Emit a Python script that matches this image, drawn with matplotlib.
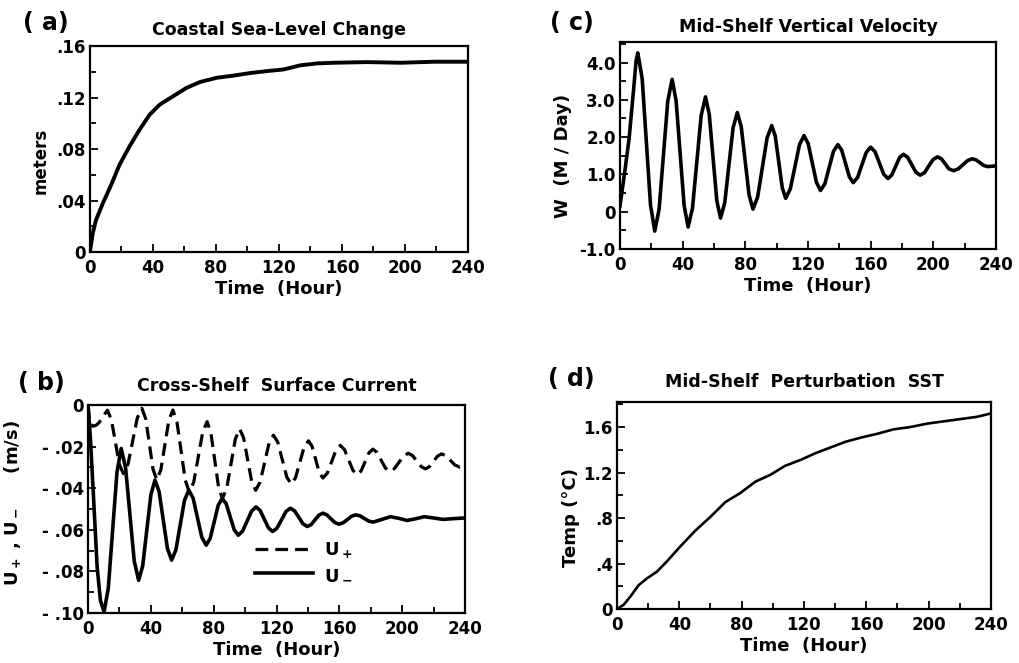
import matplotlib
matplotlib.use("Agg")
import matplotlib.pyplot as plt
from matplotlib.ticker import MultipleLocator, FuncFormatter

# ---- data ----
# (a) coastal sea-level change (m)
t_sl = [0, 1.7, 3.8, 8.1, 13.4, 18.7, 25.1, 31.5, 37.9, 44.3, 52.8, 61.3, 69.8,
        80.4, 91.0, 101.7, 112.3, 123.0, 133.6, 144.3, 154.9, 176.2, 197.4, 218.7, 240]
sea_level = [0, 0.0143, 0.0247, 0.0377, 0.052, 0.0676, 0.082, 0.095, 0.1067, 0.1145,
             0.121, 0.1275, 0.132, 0.1353, 0.137, 0.139, 0.1405, 0.1418, 0.145, 0.1465,
             0.147, 0.1475, 0.147, 0.1478, 0.1478]

# (b) cross-shelf surface current (m/s)
t_up = [0, 1, 3, 5, 7, 9.5, 12.3, 14.85, 17.4, 19.95, 22.5, 25.45, 28.4, 31.35, 34.3,
        36.7, 39.05, 41.4, 43.8, 46.35, 48.9, 51.45, 54.0, 56.6, 59.25, 61.9, 64.5,
        67.3, 70.15, 73.0, 75.8, 78.2, 80.65, 83.1, 85.5, 88.25, 91.0, 93.75, 96.5,
        99.05, 101.6, 104.15, 106.7, 109.5, 112.35, 115.2, 118.0, 120.8, 123.65, 126.5,
        129.3, 132.05, 134.8, 137.55, 140.3, 142.6, 144.9, 147.2, 149.5, 152.3, 155.05,
        157.8, 160.6, 163.3, 165.95, 168.6, 171.3, 173.8, 176.3, 178.8, 181.3, 184.0,
        186.65, 189.3, 192.0, 194.95, 197.9, 200.85, 203.8, 206.55, 209.3, 212.05,
        214.8, 217.35, 219.9, 222.45, 225.0, 227.9, 230.75, 233.6, 236.5, 240]
u_plus = [0, -0.008, -0.0102, -0.0098, -0.0085, -0.0055, -0.0025, -0.0070, -0.0178,
          -0.0286, -0.0330, -0.0284, -0.0173, -0.0062, -0.0016, -0.0066, -0.0188,
          -0.0310, -0.0360, -0.0311, -0.0192, -0.0073, -0.0024, -0.0082, -0.0222,
          -0.0362, -0.0420, -0.0370, -0.0250, -0.0130, -0.0080, -0.0134, -0.0265,
          -0.0396, -0.0450, -0.0401, -0.0283, -0.0164, -0.0115, -0.0158, -0.0263,
          -0.0367, -0.0410, -0.0371, -0.0278, -0.0184, -0.0145, -0.0179, -0.0263,
          -0.0346, -0.0380, -0.0350, -0.0276, -0.0202, -0.0172, -0.0198, -0.0262,
          -0.0325, -0.0351, -0.0328, -0.0273, -0.0217, -0.0194, -0.0215, -0.0265,
          -0.0314, -0.0335, -0.0317, -0.0274, -0.0230, -0.0212, -0.0228, -0.0266,
          -0.0303, -0.0319, -0.0306, -0.0276, -0.0245, -0.0232, -0.0243, -0.0270,
          -0.0296, -0.0307, -0.0296, -0.0271, -0.0246, -0.0235, -0.0244, -0.0267,
          -0.0289, -0.0298, -0.0290]

t_um = [0, 1.5, 3.6, 5.8, 7.9, 10.2, 12.9, 15.65, 18.4, 21.1, 23.9, 26.65, 29.4, 32.2,
        34.8, 37.4, 40.0, 42.6, 45.25, 47.9, 50.55, 53.2, 55.9, 58.65, 61.4, 64.1,
        66.9, 69.65, 72.4, 75.2, 77.75, 80.3, 82.85, 85.4, 87.95, 90.5, 93.05, 95.6,
        98.4, 101.25, 104.1, 106.9, 109.55, 112.2, 114.85, 117.5, 120.3, 123.15, 126.0,
        128.8, 131.5, 134.15, 136.8, 139.5, 142.0, 144.5, 147.0, 149.5, 152.05, 154.6,
        157.15, 159.7, 162.4, 165.05, 167.7, 170.4, 173.2, 175.95, 178.7, 181.5, 187.0,
        192.5, 198.0, 203.0, 208.5, 214.0, 220.0, 226.0, 233.0, 240]
u_minus = [0, -0.016, -0.046, -0.078, -0.094, -0.0995, -0.0880, -0.0602, -0.0324,
           -0.0209, -0.0302, -0.0526, -0.0750, -0.0843, -0.0773, -0.0602, -0.0431,
           -0.0361, -0.0417, -0.0554, -0.0690, -0.0746, -0.0697, -0.0578, -0.0458,
           -0.0409, -0.0448, -0.0542, -0.0635, -0.0674, -0.0641, -0.0562, -0.0482,
           -0.0449, -0.0475, -0.0538, -0.0600, -0.0626, -0.0606, -0.0558, -0.0510,
           -0.0490, -0.0507, -0.0549, -0.0591, -0.0608, -0.0592, -0.0552, -0.0512,
           -0.0496, -0.0509, -0.0540, -0.0571, -0.0584, -0.0575, -0.0552, -0.0529,
           -0.0520, -0.0528, -0.0547, -0.0565, -0.0573, -0.0566, -0.0551, -0.0535,
           -0.0528, -0.0533, -0.0546, -0.0558, -0.0563, -0.0550, -0.0537, -0.0545,
           -0.0555, -0.0547, -0.0537, -0.0543, -0.0550, -0.0546, -0.0543]

# (c) mid-shelf vertical velocity (m/day)
t_w = [0, 3, 5.8, 8.7, 10.3, 11.4, 14.2, 16.85, 19.5, 22.2, 25.0, 27.75, 30.5, 33.3,
       35.85, 38.4, 40.95, 43.5, 46.3, 49.05, 51.8, 54.6, 57.0, 59.4, 61.8, 64.2, 66.9,
       69.55, 72.2, 74.9, 77.4, 79.9, 82.4, 84.9, 87.9, 90.9, 93.9, 96.9, 99.1, 101.35,
       103.6, 105.8, 108.7, 111.65, 114.6, 117.5, 120.1, 122.75, 125.4, 128.0, 130.8,
       133.55, 136.3, 139.1, 141.55, 144.0, 146.45, 148.9, 151.7, 154.45, 157.2, 160.0,
       162.8, 165.55, 168.3, 171.1, 173.55, 176.0, 178.45, 180.9, 183.6, 186.25, 188.9,
       191.6, 194.4, 197.15, 199.9, 202.7, 205.1, 207.5, 209.9, 213.0, 215.95, 218.9,
       221.85, 224.8, 227.3, 229.75, 232.2, 234.7, 240]
w_vel = [0.15, 1.05, 1.95, 3.27, 4.05, 4.26, 3.56, 1.87, 0.18, -0.52, 0.07, 1.52, 2.96,
         3.55, 2.97, 1.57, 0.17, -0.41, 0.10, 1.33, 2.57, 3.08, 2.61, 1.46, 0.30, -0.17,
         0.24, 1.25, 2.25, 2.66, 2.28, 1.37, 0.45, 0.07, 0.40, 1.19, 1.98, 2.31, 2.03,
         1.34, 0.64, 0.36, 0.61, 1.20, 1.80, 2.04, 1.83, 1.31, 0.79, 0.57, 0.75, 1.19,
         1.62, 1.80, 1.65, 1.29, 0.93, 0.78, 0.92, 1.26, 1.59, 1.73, 1.61, 1.31, 1.01,
         0.89, 0.99, 1.22, 1.45, 1.54, 1.46, 1.26, 1.06, 0.98, 1.05, 1.23, 1.40, 1.47,
         1.42, 1.29, 1.15, 1.10, 1.15, 1.26, 1.37, 1.42, 1.39, 1.315, 1.24, 1.21, 1.23]

# (d) mid-shelf perturbation SST (deg C)
t_sst = [0, 4.3, 8.6, 13.9, 19.3, 25.7, 32.1, 40.6, 50.3, 59.9, 69.5, 79.1, 88.8, 98.4,
         108.0, 117.6, 127.3, 136.9, 146.5, 157.2, 166.8, 177.5, 188.2, 198.9, 209.6,
         220.3, 231.0, 240]
sst = [0, 0.038, 0.11, 0.21, 0.27, 0.33, 0.42, 0.55, 0.69, 0.81, 0.94, 1.02, 1.12, 1.18,
       1.26, 1.31, 1.37, 1.42, 1.47, 1.51, 1.54, 1.58, 1.60, 1.63, 1.65, 1.67, 1.69, 1.72]

plt.rcParams['font.family'] = ['DejaVu Sans']
plt.rcParams['font.weight'] = 'bold'
plt.rcParams['axes.labelweight'] = 'bold'
plt.rcParams['axes.titleweight'] = 'bold'

fig = plt.figure(figsize=(10.19, 6.63), dpi=100)

ax_a = fig.add_axes([0.0883, 0.6199, 0.3709, 0.3107])
ax_c = fig.add_axes([0.6084, 0.6244, 0.3690, 0.3122])
ax_b = fig.add_axes([0.0864, 0.0754, 0.3700, 0.3137])
ax_d = fig.add_axes([0.6055, 0.0814, 0.3670, 0.3122])


def nolead(fmt, neg_gap=""):
    # old-style labels: ".04" instead of "0.04"
    def f(v, pos):
        if abs(v) < 1e-9:
            return "0"
        s = fmt % abs(v)
        if abs(v) < 1:
            s = s.replace("0.", ".", 1)
        return ("-" + neg_gap + s) if v < 0 else s
    return FuncFormatter(f)


def style(ax, ymaj, ymin):
    ax.set_xlim(0, 240)
    ax.xaxis.set_major_locator(MultipleLocator(40))
    ax.xaxis.set_minor_locator(MultipleLocator(20))
    ax.yaxis.set_major_locator(MultipleLocator(ymaj))
    ax.yaxis.set_minor_locator(MultipleLocator(ymin))
    ax.tick_params(which='both', direction='in', top=False, right=False,
                   labelsize=12, width=1.3)
    ax.tick_params(axis='x', pad=5)
    ax.tick_params(axis='y', pad=3)
    ax.tick_params(which='major', length=6)
    ax.tick_params(which='minor', length=4)
    for s in ax.spines.values():
        s.set_linewidth(1.6)
    ax.set_xlabel("Time  (Hour)", fontsize=13, labelpad=2)


# (a)
ax_a.plot(t_sl, sea_level, color='black', lw=2.8)
style(ax_a, 0.04, 0.02)
ax_a.set_ylim(0, 0.16)
ax_a.yaxis.set_major_formatter(nolead("%.2f"))
ax_a.set_ylabel("meters", fontsize=12)
ax_a.yaxis.set_label_coords(-0.106, 0.44)
ax_a.set_title("Coastal Sea-Level Change", fontsize=12.5, pad=8)
fig.text(0.045, 0.965, "( a)", fontsize=17, ha='center', va='center')

# (c)
ax_c.plot(t_w, w_vel, color='black', lw=2.6)
style(ax_c, 1.0, 0.5)
ax_c.set_ylim(-1.0, 4.55)
ax_c.yaxis.set_major_formatter(FuncFormatter(lambda v, p: "0" if abs(v) < 1e-9 else "%.1f" % v))
ax_c.set_ylabel("W  (M / Day)", fontsize=13)
ax_c.yaxis.set_label_coords(-0.128, 0.45)
ax_c.set_title("Mid-Shelf Vertical Velocity", fontsize=12.5, pad=7)
fig.text(0.561, 0.966, "( c)", fontsize=17, ha='center', va='center')

# (b)
ax_b.plot(t_up, u_plus, color='black', lw=2.3, ls=(0, (4, 2.2)), label="U$_+$")
ax_b.plot(t_um, u_minus, color='black', lw=2.6, label="U$_-$")
style(ax_b, 0.02, 0.01)
ax_b.set_ylim(-0.10, 0.0)
ax_b.yaxis.set_major_formatter(nolead("%.2f", neg_gap=" "))
ax_b.set_ylabel("U$_+$ , U$_-$     (m/s)", fontsize=13)
ax_b.yaxis.set_label_coords(-0.172, 0.53)
ax_b.set_title("Cross-Shelf  Surface Current", fontsize=12.5, pad=10)
ax_b.legend(loc='upper left', bbox_to_anchor=(0.40, 0.43), frameon=False,
            fontsize=13, handlelength=3.2, handletextpad=0.6, labelspacing=0.3)
fig.text(0.041, 0.422, "( b)", fontsize=17, ha='center', va='center')

# (d)
ax_d.plot(t_sst, sst, color='black', lw=1.9)
style(ax_d, 0.4, 0.2)
ax_d.set_ylim(0, 1.82)
ax_d.yaxis.set_major_formatter(nolead("%.1f"))
ax_d.set_ylabel("Temp (°C)", fontsize=13)
ax_d.yaxis.set_label_coords(-0.099, 0.444)
ax_d.set_title("Mid-Shelf  Perturbation  SST", fontsize=12.5, pad=11)
fig.text(0.561, 0.428, "( d)", fontsize=17, ha='center', va='center')

fig.savefig("out.png", dpi=100, facecolor='white')
